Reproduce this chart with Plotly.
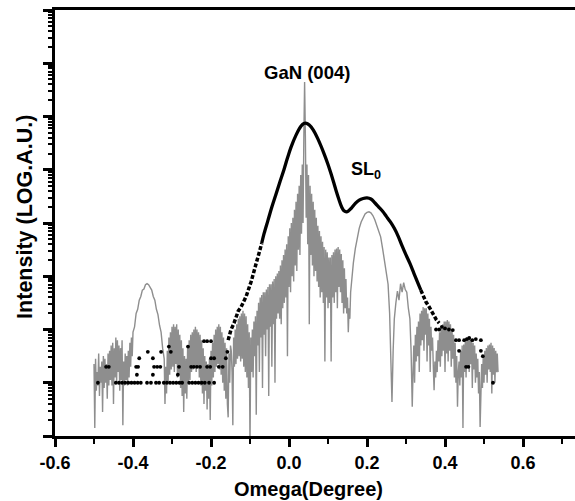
import plotly.graph_objects as go

# ---------------- data (omega in degrees, intensity as log10 decades) ----------------
# gray curve
gray_a_omega = [
    -0.500, -0.498, -0.496, -0.494, -0.492, -0.490, -0.488, -0.486, -0.484, -0.482,
    -0.480, -0.478, -0.476, -0.474, -0.472, -0.470, -0.468, -0.466, -0.464, -0.462,
    -0.460, -0.458, -0.456, -0.454, -0.452, -0.450, -0.448, -0.446, -0.444, -0.442,
    -0.440, -0.438, -0.436, -0.434, -0.432, -0.430, -0.428, -0.426, -0.424, -0.422,
    -0.420, -0.418, -0.416, -0.414, -0.412, -0.410, -0.408, -0.406, -0.404, -0.402]
gray_a_log = [
    1.35, 0.15, 1.45, 0.85, 1.20, 0.95, 1.55, 0.75, 1.30, 1.00,
    1.40, 0.45, 1.50, 0.90, 1.45, 1.00, 1.35, 0.70, 1.55, 0.95,
    1.60, 1.05, 1.70, 0.95, 1.75, 0.60, 1.65, 1.10, 1.85, 1.00,
    1.80, 1.20, 1.70, 0.85, 1.65, 1.05, 1.80, 0.20, 1.40, 0.95,
    1.55, 1.05, 1.50, 0.95, 1.60, 1.10, 1.75, 1.30, 1.85, 1.50]

gray_b_omega = [
    -0.400, -0.396, -0.392, -0.388, -0.384, -0.380, -0.376, -0.372, -0.368, -0.364, -0.360,
    -0.356, -0.352, -0.348, -0.344, -0.340, -0.336, -0.332, -0.328, -0.324, -0.320]
gray_b_log = [
    1.95, 2.05, 2.30, 2.38, 2.55, 2.62, 2.74, 2.76, 2.84, 2.86, 2.84,
    2.78, 2.74, 2.62, 2.55, 2.38, 2.28, 2.08, 1.95, 1.65, 1.45]

gray_c_omega = [
    -0.318, -0.316, -0.314, -0.312, -0.310, -0.308, -0.306, -0.304, -0.302, -0.300,
    -0.298, -0.296, -0.294, -0.292, -0.290, -0.288, -0.286, -0.284, -0.282, -0.280,
    -0.278, -0.276, -0.274, -0.272, -0.270, -0.268, -0.266, -0.264, -0.262, -0.260,
    -0.258, -0.256, -0.254, -0.252, -0.250, -0.248, -0.246, -0.244, -0.242, -0.240,
    -0.238, -0.236, -0.234, -0.232, -0.230, -0.228, -0.226, -0.224, -0.222, -0.220,
    -0.218, -0.216, -0.214, -0.212, -0.210, -0.208, -0.206, -0.204, -0.202, -0.200,
    -0.198, -0.196, -0.194, -0.192, -0.190, -0.188, -0.186, -0.184, -0.182, -0.180,
    -0.178, -0.176, -0.174, -0.172, -0.170, -0.168, -0.166, -0.164, -0.162, -0.160,
    -0.158, -0.156, -0.154, -0.152, -0.150]
gray_c_log = [
    0.60, 1.30, 0.80, 1.60, 1.00, 1.85, 1.15, 1.95, 1.25, 2.05,
    1.30, 2.10, 1.20, 2.05, 1.35, 2.10, 1.10, 2.00, 1.15, 1.90,
    0.90, 1.80, 0.75, 1.65, 0.45, 1.50, 0.80, 1.45, 0.70, 1.65,
    1.00, 1.80, 1.05, 1.90, 1.20, 1.95, 1.25, 2.00, 1.30, 2.05,
    1.20, 2.00, 1.30, 1.95, 1.10, 1.90, 0.95, 1.80, 0.80, 1.65,
    0.60, 1.50, 0.85, 1.40, 0.50, 1.35, 0.70, 1.45, 0.30, 1.60,
    0.95, 1.75, 1.10, 1.90, 1.20, 2.00, 1.30, 2.05, 1.35, 2.10,
    1.25, 2.05, 1.15, 1.95, 1.00, 1.85, 0.85, 1.75, 0.70, 1.65,
    0.60, 0.35, 1.55, 1.00, 1.70]

gray_d_omega = [
    -0.148, -0.146, -0.144, -0.142, -0.140, -0.138, -0.136, -0.134, -0.132, -0.130,
    -0.128, -0.126, -0.124, -0.122, -0.120, -0.118, -0.116, -0.114, -0.112, -0.110,
    -0.108, -0.106, -0.104, -0.102, -0.100, -0.098, -0.096, -0.094, -0.092, -0.090,
    -0.088, -0.086, -0.084, -0.082, -0.080, -0.078, -0.076, -0.074, -0.072, -0.070,
    -0.068, -0.066, -0.064, -0.062, -0.060, -0.058, -0.056, -0.054, -0.052, -0.050,
    -0.048, -0.046, -0.044, -0.042, -0.040, -0.038, -0.036, -0.034, -0.032, -0.030]
gray_d_log = [
    1.60, 1.20, 0.20, 1.85, 1.30, 2.00, 1.35, 2.10, 1.45, 2.20,
    1.50, 2.25, 1.40, 2.30, 1.45, 2.35, 1.30, 2.30, 1.20, 2.25,
    1.10, 2.10, 0.90, 1.95, -0.20, 1.85, 1.20, 2.00, 1.10, 2.15,
    1.50, 2.25, 0.40, 2.35, 1.70, 2.50, 1.20, 2.60, 1.85, 2.65,
    0.90, 2.70, 1.90, 2.70, 1.50, 2.75, 2.00, 2.80, 0.75, 2.85,
    2.05, 2.85, 1.30, 2.90, 2.10, 2.95, 1.00, 3.00, 2.20, 3.05]

gray_e_omega = [
    -0.028, -0.026, -0.024, -0.022, -0.020, -0.018, -0.016, -0.014, -0.012, -0.010,
    -0.008, -0.006, -0.004, -0.002, 0.000, 0.002, 0.004, 0.006, 0.008, 0.010,
    0.012, 0.014, 0.016, 0.018, 0.020, 0.022, 0.024, 0.026, 0.028, 0.030,
    0.032, 0.034, 0.036, 0.038, 0.040, 0.042, 0.044, 0.046, 0.048, 0.050,
    0.052, 0.054, 0.056, 0.058, 0.060, 0.062, 0.064, 0.066, 0.068, 0.070,
    0.072, 0.074, 0.076, 0.078, 0.080, 0.082, 0.084, 0.086, 0.088, 0.090,
    0.092, 0.094, 0.096, 0.098, 0.100]
gray_e_log = [
    2.30, 3.10, 2.20, 3.20, 2.10, 3.30, 2.40, 3.40, 2.50, 3.50,
    2.60, 3.60, 1.50, 3.75, 2.80, 3.90, 2.70, 4.00, 3.00, 4.10,
    2.90, 4.25, 3.20, 4.40, 3.10, 4.55, 3.50, 4.70, 3.40, 4.90,
    3.80, 5.10, 4.00, 5.60, 6.65, 5.60, 4.10, 5.10, 3.60, 4.90,
    2.10, 4.70, 3.40, 4.55, 3.20, 4.40, 3.00, 4.25, 3.10, 4.10,
    2.90, 3.95, 2.80, 3.85, 2.60, 3.75, 2.70, 3.65, 2.50, 3.55,
    1.40, 3.50, 2.60, 3.45, 2.40]

gray_f_omega = [
    0.102, 0.104, 0.106, 0.108, 0.110, 0.112, 0.114, 0.116, 0.118, 0.120,
    0.122, 0.124, 0.126, 0.128, 0.130, 0.132, 0.134, 0.136, 0.138, 0.140,
    0.142, 0.144, 0.146, 0.148, 0.150, 0.152, 0.154, 0.156, 0.158]
gray_f_log = [
    3.35, 2.50, 3.35, 1.40, 3.40, 2.60, 3.45, 2.50, 3.50, 2.70,
    3.52, 2.40, 3.55, 2.80, 3.50, 2.70, 3.42, 2.50, 3.30, 2.30,
    3.15, 2.40, 2.95, 2.30, 2.60, 1.95, 2.40, 2.20, 2.70]

gray_g_omega = [
    0.160, 0.165, 0.170, 0.175, 0.180, 0.185, 0.190, 0.195, 0.200, 0.205, 0.210, 0.215,
    0.220, 0.225, 0.230, 0.235, 0.240, 0.245, 0.250, 0.254, 0.258, 0.261, 0.264]
gray_g_log = [
    2.90, 3.25, 3.52, 3.74, 3.90, 4.02, 4.11, 4.17, 4.20, 4.21, 4.19, 4.14,
    4.06, 3.96, 3.86, 3.74, 3.52, 3.30, 3.10, 2.85, 2.30, 1.40, 0.64]

gray_h_omega = [0.267, 0.270, 0.274, 0.278, 0.282, 0.286, 0.290, 0.294, 0.298, 0.302,
                0.306, 0.310, 0.313, 0.316]
gray_h_log = [1.60, 2.20, 2.50, 2.72, 2.55, 2.86, 2.70, 2.88, 2.75, 2.70,
              2.40, 2.20, 1.60, 0.55]

gray_i_omega = [
    0.318, 0.320, 0.322, 0.324, 0.326, 0.328, 0.330, 0.332, 0.334, 0.336,
    0.338, 0.340, 0.342, 0.344, 0.346, 0.348, 0.350, 0.352, 0.354, 0.356,
    0.358, 0.360, 0.362, 0.364, 0.366, 0.368, 0.370, 0.372]
gray_i_log = [
    1.20, 1.70, 1.00, 1.90, 1.40, 2.05, 1.50, 2.15, 1.20, 2.30,
    1.70, 2.35, 1.80, 2.42, 1.60, 2.40, 1.90, 2.40, 1.40, 2.30,
    1.70, 2.20, 1.20, 2.05, 1.60, 1.85, 1.30, 0.86]

gray_j_omega = [
    0.374, 0.376, 0.378, 0.380, 0.382, 0.384, 0.386, 0.388, 0.390, 0.392,
    0.394, 0.396, 0.398, 0.400, 0.402, 0.404, 0.406, 0.408, 0.410, 0.412,
    0.414, 0.416, 0.418, 0.420, 0.422, 0.424, 0.426, 0.428, 0.430, 0.432]
gray_j_log = [
    1.40, 1.10, 1.60, 1.20, 1.80, 1.40, 1.95, 1.30, 2.05, 1.50,
    2.10, 1.60, 2.15, 1.20, 2.15, 1.55, 2.18, 1.40, 2.15, 1.60,
    2.10, 1.30, 2.00, 1.45, 1.90, 1.10, 1.75, 1.00, 1.50, 0.55]

gray_k_omega = [
    0.434, 0.436, 0.438, 0.440, 0.442, 0.444, 0.446, 0.448, 0.450, 0.452,
    0.454, 0.456, 0.458, 0.460, 0.462, 0.464, 0.466, 0.468, 0.470, 0.472,
    0.474, 0.476, 0.478, 0.480, 0.482, 0.484, 0.486, 0.488, 0.490]
gray_k_log = [
    1.20, 1.40, 0.95, 1.60, 1.10, 1.70, 0.15, 1.72, 1.20, 1.78,
    1.10, 1.85, 1.30, 1.82, 1.20, 1.86, 1.35, 1.80, 0.90, 1.75,
    1.25, 1.70, 1.00, 1.55, 1.10, 1.45, 0.80, 1.20, 0.17]

gray_l_omega = [
    0.492, 0.494, 0.496, 0.498, 0.500, 0.502, 0.504, 0.506, 0.508, 0.510,
    0.512, 0.514, 0.516, 0.518, 0.520, 0.522, 0.524, 0.526, 0.528, 0.530,
    0.532, 0.534, 0.536]
gray_l_log = [
    1.10, 1.35, 0.90, 1.50, 1.00, 1.60, 1.15, 1.65, 1.00, 1.70,
    1.25, 1.72, 1.20, 1.75, 0.80, 1.70, 1.15, 1.65, 1.00, 1.60,
    1.20, 1.55, 1.20]

# black curve: smooth high-intensity part
black_main_omega = [
    -0.070, -0.064, -0.054, -0.044, -0.033, -0.023, -0.013, -0.004, 0.005, 0.018, 0.031, 0.038, 0.045,
    0.052, 0.062, 0.074, 0.090, 0.100, 0.108, 0.115, 0.121, 0.128, 0.135, 0.141, 0.147, 0.153, 0.160,
    0.170, 0.180, 0.190, 0.200, 0.210, 0.220, 0.230, 0.240, 0.250, 0.260, 0.270, 0.280, 0.290, 0.300,
    0.310, 0.320, 0.330, 0.338]
black_main_log = [
    3.62, 3.80, 4.05, 4.30, 4.55, 4.78, 5.00, 5.22, 5.42, 5.65, 5.82, 5.87, 5.87,
    5.84, 5.75, 5.58, 5.30, 5.10, 4.92, 4.75, 4.60, 4.44, 4.30, 4.23, 4.21, 4.23, 4.28,
    4.37, 4.43, 4.46, 4.47, 4.45, 4.38, 4.30, 4.22, 4.12, 4.02, 3.90, 3.75, 3.57, 3.40,
    3.24, 3.06, 2.88, 2.74]
# black curve: steep flanks (sparse points)
black_left_omega = [-0.156, -0.149, -0.141, -0.130, -0.123, -0.110, -0.097, -0.090, -0.085, -0.077, -0.070]
black_left_log = [1.80, 1.99, 2.12, 2.35, 2.42, 2.62, 2.90, 3.12, 3.22, 3.43, 3.62]
black_right_omega = [0.338, 0.345, 0.351, 0.358, 0.364, 0.372, 0.378, 0.385]
black_right_log = [2.74, 2.62, 2.52, 2.44, 2.36, 2.26, 2.18, 2.12]

# black curve: background counts (discrete dots)
black_dot_omega = [
    -0.490, -0.444, -0.436, -0.428, -0.420, -0.412, -0.404, -0.396, -0.388, -0.380, -0.364, -0.354,
    -0.341, -0.333, -0.321, -0.313, -0.305, -0.297, -0.289, -0.281, -0.274, -0.256, -0.248, -0.240,
    -0.232, -0.224, -0.216, -0.205, -0.192,
    -0.469, -0.462, -0.392, -0.387, -0.346, -0.338, -0.330, -0.282, -0.251, -0.244, -0.236, -0.228,
    -0.210, -0.202, -0.180, -0.170,
    -0.390, -0.349, -0.285,
    -0.384, -0.349, -0.200, -0.192, -0.162,
    -0.362, -0.328, -0.303, -0.158,
    -0.308, -0.259,
    -0.218, -0.210, -0.200,
    0.377, 0.385, 0.392, 0.400, 0.410, 0.420, 0.428, 0.436, 0.436, 0.449, 0.456, 0.462, 0.470,
    0.479, 0.492, 0.492, 0.497, 0.454, 0.460, 0.523]
black_dot_log = [
    1.00, 1.00, 1.00, 1.00, 1.00, 1.00, 1.00, 1.00, 1.00, 1.00, 1.00, 1.00,
    1.00, 1.00, 1.00, 1.00, 1.00, 1.00, 1.00, 1.00, 1.00, 1.00, 1.00, 1.00,
    1.00, 1.00, 1.00, 1.00, 1.00,
    1.30, 1.30, 1.30, 1.30, 1.30, 1.30, 1.30, 1.30, 1.30, 1.30, 1.30, 1.30,
    1.30, 1.30, 1.30, 1.30,
    1.15, 1.15, 1.15,
    1.46, 1.46, 1.46, 1.46, 1.46,
    1.58, 1.58, 1.58, 1.58,
    1.68, 1.68,
    1.78, 1.78, 1.78,
    2.00, 2.00, 2.05, 2.02, 2.00, 1.99, 1.80, 1.80, 1.60, 1.80, 1.82, 1.84, 1.80,
    1.82, 1.80, 1.60, 1.50, 1.30, 1.30, 1.00]

x_tick_values = [-0.6, -0.4, -0.2, 0.0, 0.2, 0.4, 0.6]
x_tick_labels = ["-0.6", "-0.4", "-0.2", "0.0", "0.2", "0.4", "0.6"]
x_minor_values = [-0.5, -0.3, -0.1, 0.1, 0.3, 0.5, 0.7]
y_decades = list(range(0, 9))

gray_pieces = [
    (gray_a_omega, gray_a_log), (gray_b_omega, gray_b_log), (gray_c_omega, gray_c_log),
    (gray_d_omega, gray_d_log), (gray_e_omega, gray_e_log), (gray_f_omega, gray_f_log),
    (gray_g_omega, gray_g_log), (gray_h_omega, gray_h_log), (gray_i_omega, gray_i_log),
    (gray_j_omega, gray_j_log), (gray_k_omega, gray_k_log), (gray_l_omega, gray_l_log),
]
gray_omega, gray_log = [], []
for xs, ls in gray_pieces:
    assert len(xs) == len(ls), (len(xs), len(ls), xs[0])
    gray_omega += xs
    gray_log += ls
assert all(b > a for a, b in zip(gray_omega, gray_omega[1:]))
assert len(black_main_omega) == len(black_main_log)
assert len(black_dot_omega) == len(black_dot_log)


def to_counts(vals):
    return [10 ** v for v in vals]


GRAY = "#8e8e8e"
fig = go.Figure()
fig.add_trace(go.Scatter(x=gray_omega, y=to_counts(gray_log), mode="lines",
                         line=dict(color=GRAY, width=1.4), hoverinfo="skip"))
fig.add_trace(go.Scatter(x=black_main_omega, y=to_counts(black_main_log), mode="lines",
                         line=dict(color="black", width=3.3, shape="spline"), hoverinfo="skip"))
fig.add_trace(go.Scatter(x=black_left_omega, y=to_counts(black_left_log), mode="lines",
                         line=dict(color="black", width=3.5, dash="4px,2px"), hoverinfo="skip"))
fig.add_trace(go.Scatter(x=black_right_omega, y=to_counts(black_right_log), mode="lines",
                         line=dict(color="black", width=3.5, dash="4px,2px"), hoverinfo="skip"))
fig.add_trace(go.Scatter(x=black_dot_omega, y=to_counts(black_dot_log), mode="markers",
                         marker=dict(color="black", size=3.8), hoverinfo="skip"))

FONT = "Liberation Sans, Arial, sans-serif"
minor_y = [k * 10 ** n for n in range(0, 8) for k in range(2, 10)]

fig.update_layout(
    width=575, height=501,
    margin=dict(l=55, r=0, t=10, b=65),
    paper_bgcolor="white", plot_bgcolor="white",
    showlegend=False,
    font=dict(family=FONT, color="black"),
    xaxis=dict(
        range=[-0.6, 0.7333],
        tickmode="array", tickvals=x_tick_values, ticktext=x_tick_labels,
        ticks="outside", ticklen=8, tickwidth=2.5, tickcolor="black",
        tickfont=dict(family=FONT, size=18, color="black", weight="bold"),
        showline=True, linewidth=3, linecolor="black", mirror=True,
        showgrid=False, zeroline=False,
        minor=dict(tickmode="array", tickvals=x_minor_values, ticks="outside",
                   ticklen=5, tickwidth=2, tickcolor="black", showgrid=False),
    ),
    yaxis=dict(
        type="log", range=[0, 8],
        tickmode="array", tickvals=[10 ** d for d in y_decades],
        showticklabels=False,
        ticks="outside", ticklen=9, tickwidth=2.5, tickcolor="black",
        showline=True, linewidth=3, linecolor="black", mirror=False,
        showgrid=False, zeroline=False,
        minor=dict(tickmode="array", tickvals=minor_y, ticks="outside",
                   ticklen=4.5, tickwidth=1.5, tickcolor="black", showgrid=False),
    ),
    annotations=[
        dict(text="Omega(Degree)", xref="paper", yref="paper", x=0.487, y=-0.094,
             yanchor="top", showarrow=False,
             font=dict(family=FONT, size=20, color="black", weight="bold")),
        dict(text="Intensity (LOG.A.U.)", xref="paper", yref="paper", x=-0.058, y=0.514,
             xanchor="center", yanchor="middle", textangle=-90, showarrow=False,
             font=dict(family=FONT, size=21.5, color="black", weight="bold")),
        dict(text="GaN (004)", x=0.046, y=6.83, xref="x", yref="y", showarrow=False,
             font=dict(family=FONT, size=18.5, color="black", weight="bold")),
        dict(text="SL<sub>0</sub>", x=0.198, y=4.98, xref="x", yref="y", showarrow=False,
             font=dict(family=FONT, size=18, color="black", weight="bold")),
    ],
)

fig.write_html("out.html", config={"displayModeBar": False},
               post_script="document.body.style.margin='0';document.body.style.overflow='hidden';")
